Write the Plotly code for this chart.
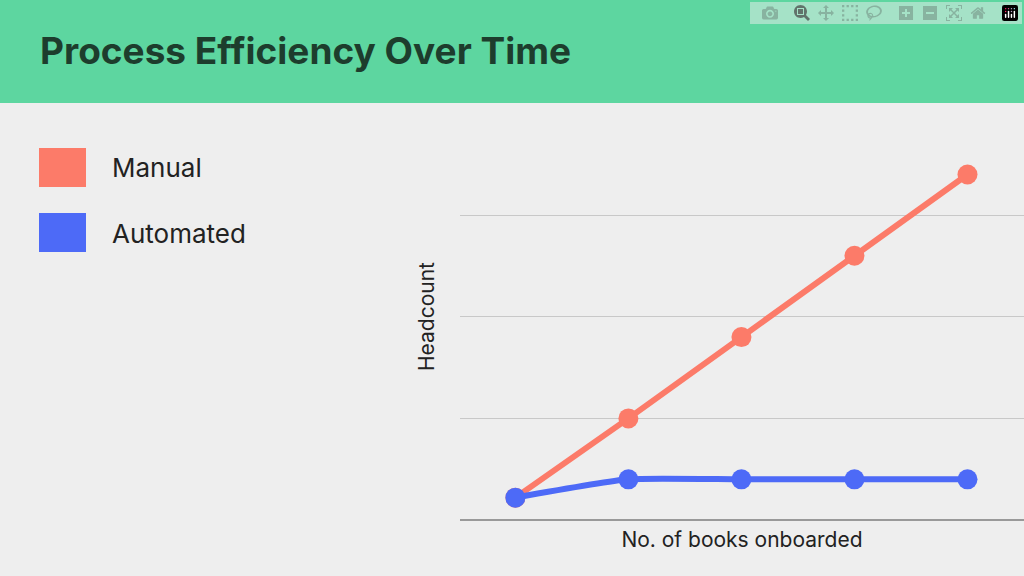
import plotly.graph_objects as go

x_vals = [0, 1, 2, 3, 4]
manual = [0.22, 1.0, 1.8, 2.6, 3.4]
automated = [0.22, 0.4, 0.4, 0.4, 0.4]
series_names = ["Manual", "Automated"]
colors = ["#fc7b69", "#4d6af7"]

L, R, T, B = 460, 0, 113, 56
W, H = 1024, 576
pw, ph = W - L - R, H - T - B
def px(x): return (x - L) / pw
def py(y): return (H - B - y) / ph

fig = go.Figure()
for name, ys, c, shp in [(series_names[0], manual, colors[0], "linear"), (series_names[1], automated, colors[1], "spline")]:
    fig.add_trace(go.Scatter(x=x_vals, y=ys, mode="lines+markers", name=name,
                             line=dict(color=c, width=6, shape=shp, smoothing=0.5),
                             marker=dict(color=c, size=20), showlegend=False, cliponaxis=False))

shapes = [
    dict(type="rect", xref="paper", yref="paper", x0=px(0), x1=px(W), y0=py(103), y1=py(0),
         fillcolor="#5dd6a0", line=dict(width=0), layer="below"),
]
annotations = [
    dict(text="<b>Process Efficiency Over Time</b>", xref="paper", yref="paper", x=px(38), y=py(50),
         xanchor="left", yanchor="middle", showarrow=False,
         font=dict(family="Inter", size=37, color="#1d3d2d")),
]
for i, (n, c) in enumerate(zip(series_names, colors)):
    top = 148 + i * 65
    shapes.append(dict(type="rect", xref="paper", yref="paper", x0=px(39), x1=px(86), y0=py(top + 39), y1=py(top),
                       fillcolor=c, line=dict(width=0)))
    annotations.append(dict(text=n, xref="paper", yref="paper", x=px(110), y=py(top + 20),
                            xanchor="left", yanchor="middle", showarrow=False,
                            font=dict(family="Inter", size=26, color="#222222")))

fig.update_layout(
    width=W, height=H, margin=dict(l=L, r=R, t=T, b=B),
    paper_bgcolor="#eeeeee", plot_bgcolor="#eeeeee",
    shapes=shapes, annotations=annotations,
    xaxis=dict(range=[-0.49, 4.5], showgrid=False, showticklabels=False, zeroline=False,
               title=dict(text="No. of books onboarded", standoff=12, font=dict(family="Inter", size=21, color="#222222"))),
    yaxis=dict(range=[0, 4.005], tickvals=[1, 2, 3, 4], showgrid=True, gridcolor="#c8c8c8", gridwidth=1, showticklabels=False,
               zeroline=True, zerolinecolor="#999999", zerolinewidth=1.5,
               title=dict(text="Headcount", standoff=18, font=dict(family="Inter", size=21, color="#222222"))),
)
fig.write_html("out.html", post_script="document.body.style.margin='0';document.body.style.background='#eeeeee';")
